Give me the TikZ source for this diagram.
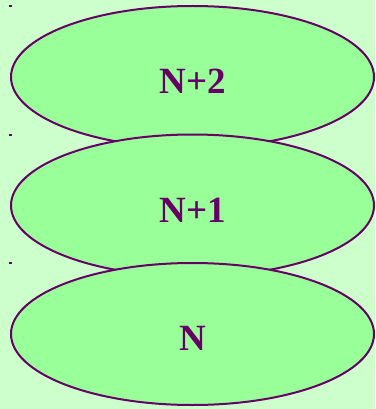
\documentclass[tikz,border=0pt]{standalone}
\usepackage{fontspec}
\setmainfont{Liberation Serif}
\usetikzlibrary{shapes.geometric}
\definecolor{bgcol}{HTML}{CCFFCC}
\definecolor{fillcol}{HTML}{99FF99}
\definecolor{purp}{HTML}{660066}
\tikzset{
  layer/.style={ellipse, draw=purp, fill=fillcol, line width=2pt,
    minimum width=363pt, minimum height=142pt, inner sep=0pt},
  lbl/.style={text=purp, font=\fontsize{37}{40}\selectfont\bfseries, inner sep=0pt},
  tick/.style={fill=purp, draw=none}
}
\begin{document}
\begin{tikzpicture}[x=1pt,y=-1pt]
\fill[bgcol] (0,0) rectangle (375,409);
\useasboundingbox (0,0) rectangle (375,409);
\node[layer] (e2) at (192.5,77) {};
\node[lbl] (t2) at (193,81.5) {N+2};
\node[layer] (e1) at (192.5,205.5) {};
\node[lbl] (t1) at (193,210.5) {N+1};
\node[layer] (e0) at (192.5,334) {};
\node[lbl] (t0) at (193,338.5) {N};
\fill[tick] (9,5.5) rectangle (12,7.5);
\fill[tick] (9,133.7) rectangle (12,135.7);
\fill[tick] (9,262) rectangle (12,264);
\end{tikzpicture}
\end{document}
